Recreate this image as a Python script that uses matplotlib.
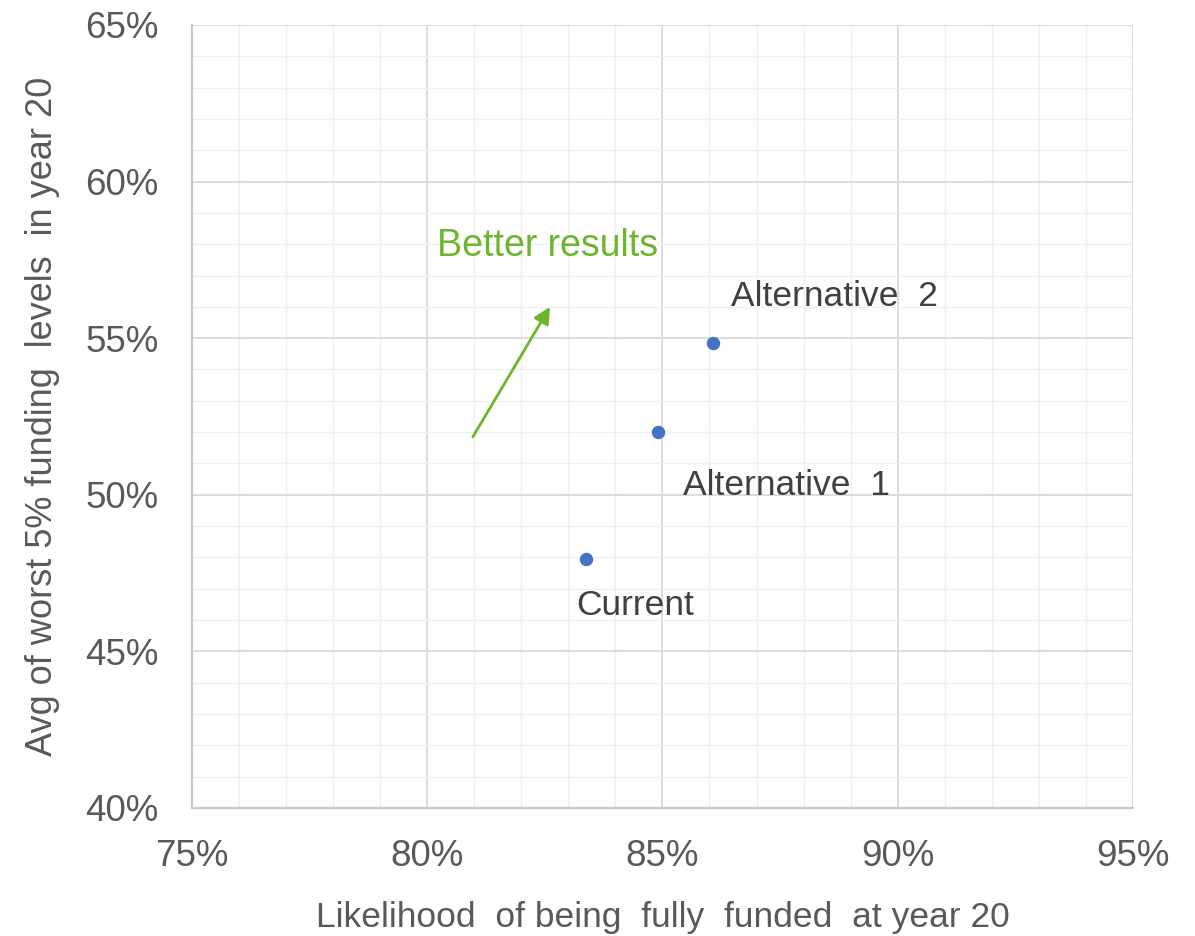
"""scatter of funding outcomes for the contribution policy alternatives"""

import matplotlib
matplotlib.use("Agg")
import matplotlib.pyplot as plt
from matplotlib.ticker import MultipleLocator, FuncFormatter

plt.rcParams['font.family'] = ['Liberation Sans', 'DejaVu Sans']

# data
scenarios = ["Current", "Alternative  1", "Alternative  2"]
likelihood_full = [83.37, 84.9, 86.07]   # % chance of fully funded at year 20
worst5_avg = [47.95, 52.0, 54.85]        # avg of worst 5% funding levels, %

# label offsets in pixels from each point (left edge, vertical centre)
label_offsets = [(-10, -47), (25, -53), (18, 46)]

fig = plt.figure(figsize=(11.95, 9.36), dpi=100)
ax = fig.add_axes([0.1607, 0.1368, 0.948 - 0.1607, 0.9733 - 0.1368])

ax.set_xlim(75, 95)
ax.set_ylim(40, 65)
ax.xaxis.set_major_locator(MultipleLocator(5))
ax.xaxis.set_minor_locator(MultipleLocator(1))
ax.yaxis.set_major_locator(MultipleLocator(5))
ax.yaxis.set_minor_locator(MultipleLocator(1))
pct = FuncFormatter(lambda v, p: "{:.0f}%".format(v))
ax.xaxis.set_major_formatter(pct)
ax.yaxis.set_major_formatter(pct)

ax.grid(which="major", color="#d9d9d9", linewidth=1.3)
ax.grid(which="minor", color="#efefef", linewidth=1.0)
ax.set_axisbelow(True)

for s in ["top", "right"]:
    ax.spines[s].set_visible(False)
for s in ["left", "bottom"]:
    ax.spines[s].set_color("#c8c8c8")
    ax.spines[s].set_linewidth(1.5)

ax.tick_params(which="both", length=0)
ax.tick_params(axis="x", labelsize=26.5, labelcolor="#595959", pad=22)
ax.tick_params(axis="y", labelsize=26.5, labelcolor="#595959", pad=24)

ax.scatter(likelihood_full, worst5_avg, s=75, color="#4472c4", zorder=3)

for name, x, y, off in zip(scenarios, likelihood_full, worst5_avg, label_offsets):
    ax.annotate(name, (x, y), xytext=off, textcoords="offset pixels",
                ha="left", va="center", fontsize=25.5, color="#404040")

# direction arrow
ax.annotate("", xy=(82.61, 56.0), xytext=(80.97, 51.85),
            arrowprops=dict(arrowstyle="-|>", color="#6cb52d", lw=2,
                            mutation_scale=25, shrinkA=0, shrinkB=0))
ax.text(80.21, 57.94, "Better results", fontsize=27, color="#6cb52d",
        ha="left", va="center")

ax.set_xlabel("Likelihood  of being  fully  funded  at year 20",
              fontsize=25.5, color="#595959", labelpad=20)
ax.set_ylabel("Avg of worst 5% funding  levels  in year 20",
              fontsize=26, color="#595959", labelpad=18)

fig.savefig("out.png", dpi=100)
